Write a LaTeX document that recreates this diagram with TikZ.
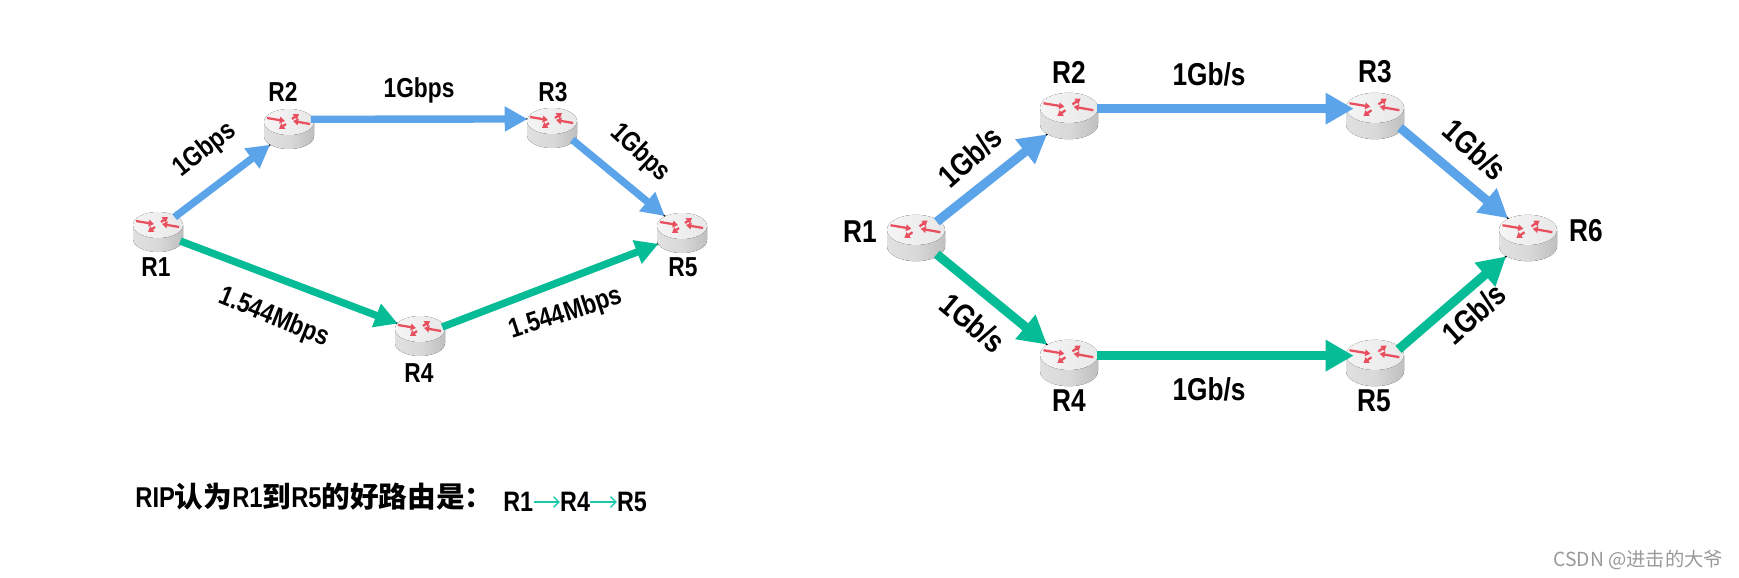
\documentclass[tikz,border=0pt]{standalone}
\usepackage{fontspec}
\setmainfont[FakeStretch=0.83]{Liberation Sans}
\newfontfamily\cjk{Noto Sans CJK SC}
\usetikzlibrary{arrows.meta,shapes.geometric,positioning}

\definecolor{linkblue}{HTML}{5BA4EA}
\definecolor{linkgreen}{HTML}{05BC96}
\definecolor{arrowred}{HTML}{E8505F}
\definecolor{pathteal}{HTML}{1CC8A8}

\tikzset{
	rtnode/.style={ellipse, inner sep=0pt, outer sep=0pt, minimum width=#1*50*0.02cm, minimum height=#1*40*0.02cm},
	smalllabel/.style={font=\fontsize{15.6}{18}\selectfont\bfseries, inner sep=0pt},
	biglabel/.style={font=\fontsize{18}{21}\selectfont\bfseries, inner sep=0pt},
	pathlabel/.style={font=\fontsize{16}{19}\selectfont\bfseries, inner sep=0pt},
	thinwire/.style={black, line width=0.8pt},
	smalllink/.style={line width=4.2pt, shorten >=1.2pt, -{Triangle[length=13pt,width=13.5pt]}},
	biglink/.style={line width=5.2pt, shorten >=1.4pt, -{Triangle[length=16pt,width=17pt]}},
	pics/routericon/.style={code={
		\fill[left color=black!12, right color=black!25, middle color=black!15] (-25,-7) -- (-25,7) arc (180:0:25 and 13) -- (25,-7) -- cycle;
		\fill[left color=black!4, right color=black!9] (0,-7) ellipse (25 and 13);
		\foreach \sx/\sy/\tx/\ty in {-22/-11/-4/-8, 21/-5/4/-8, 3/-10/10/-15, -3/-5/-10/0} {
			\draw[arrowred, line width=1.3pt, -{Triangle[length=3pt,width=3.8pt]}] (\sx,\sy) -- (\tx,\ty);
		}
	}}
}

\begin{document}
\begin{tikzpicture}[x=0.02cm,y=-0.02cm]
	\useasboundingbox (0,0) rectangle (1739,578);

	\foreach \nm/\px/\py in {la/158/232, lb/289/129, lc/552/128, ld/420/336, le/682/233} {
		\node[rtnode=1] (\nm) at (\px,\py) {};
	}
	\foreach \nm/\px/\py in {ra/916/238, rb/1069/116, rc/1375/116, rd/1069/363, re/1375/363, rf/1528/238} {
		\node[rtnode=1.16] (\nm) at (\px,\py) {};
	}

	\foreach \from/\to/\af/\at in {la/lb/42/220, lb/lc/24/158, lc/le/-30/135, la/ld/-22/150, ld/le/22/-155,
		ra/rb/38/220, rb/rc/15/165, rc/rf/-25/135, ra/rd/-38/140, rd/re/15/165, re/rf/30/-140} {
		\draw[thinwire] (\from.\af) -- (\to.\at);
	}

	\foreach \nm in {la,lb,lc,ld,le} {
		\pic at (\nm) {routericon};
	}
	\foreach \nm in {ra,rb,rc,rd,re,rf} {
		\pic[scale=1.16] at (\nm) {routericon};
	}

	\foreach \from/\to/\af/\at in {la/lb/42/220, lb/lc/24/158, lc/le/-30/135} {
		\draw[smalllink, linkblue] (\from.\af) -- (\to.\at);
	}
	\foreach \from/\to/\af/\at in {la/ld/-22/150, ld/le/22/-155} {
		\draw[smalllink, linkgreen] (\from.\af) -- (\to.\at);
	}
	\foreach \from/\to/\af/\at in {ra/rb/38/220, rc/rf/-25/135} {
		\draw[biglink, linkblue] (\from.\af) -- (\to.\at);
	}
	\draw[biglink, linkblue, shorten >=-3.5pt] (rb.15) -- (rc.165);
	\foreach \from/\to/\af/\at in {ra/rd/-38/140, re/rf/30/-140} {
		\draw[biglink, linkgreen] (\from.\af) -- (\to.\at);
	}
	\draw[biglink, linkgreen, shorten >=-3.5pt] (rd.15) -- (re.165);

	\foreach \nm/\txt/\px/\py in {tla/R1/156/267, tlb/R2/283/92, tlc/R3/553/92, tld/R4/419/373, tle/R5/683/267} {
		\node[smalllabel] (\nm) at (\px,\py) {\txt};
	}
	\foreach \nm/\txt/\px/\py in {tra/R1/860/232, trb/R2/1069/72, trc/R3/1375/72, trd/R4/1069/401, tre/R5/1374/401, trf/R6/1586/231} {
		\node[biglabel] (\nm) at (\px,\py) {\txt};
	}

	\node[smalllabel, rotate=38] (wab) at (205,150) {1Gbps};
	\node[smalllabel] (wbc) at (419,90) {1Gbps};
	\node[smalllabel, rotate=-43] (wce) at (640,153) {1Gbps};
	\node[smalllabel, rotate=-22] (wad) at (274,318) {1.544Mbps};
	\node[smalllabel, rotate=18] (wde) at (566,314) {1.544Mbps};

	\node[biglabel, rotate=42] (xab) at (970,157) {1Gb/s};
	\node[biglabel] (xbc) at (1209,74) {1Gb/s};
	\node[biglabel, rotate=-42] (xcf) at (1475,150) {1Gb/s};
	\node[biglabel, rotate=-40] (xad) at (973,323) {1Gb/s};
	\node[biglabel] (xde) at (1209,389) {1Gb/s};
	\node[biglabel, rotate=42] (xef) at (1474,314) {1Gb/s};

	\node[pathlabel, font=\fontsize{16.3}{19}\selectfont\bfseries, anchor=west] (verdict) at (135,497) {RIP{\cjk 认为}R1{\cjk 到}R5{\cjk 的好路由是：}};
	\node[pathlabel, anchor=west] (pa) at (503,502) {R1};
	\node[pathlabel, right=15pt of pa] (pb) {R4};
	\node[pathlabel, right=15pt of pb] (pc) {R5};
	\draw[pathteal, line width=0.8pt, -{Straight Barb[length=3pt,width=6pt]}] (pa) -- (pb);
	\draw[pathteal, line width=0.8pt, -{Straight Barb[length=3pt,width=6pt]}] (pb) -- (pc);

	\node[inner sep=0pt, anchor=west, black!40, font=\cjk\fontsize{11}{13}\selectfont] (mark) at (1553,560) {CSDN @进击的大爷};
\end{tikzpicture}
\end{document}
